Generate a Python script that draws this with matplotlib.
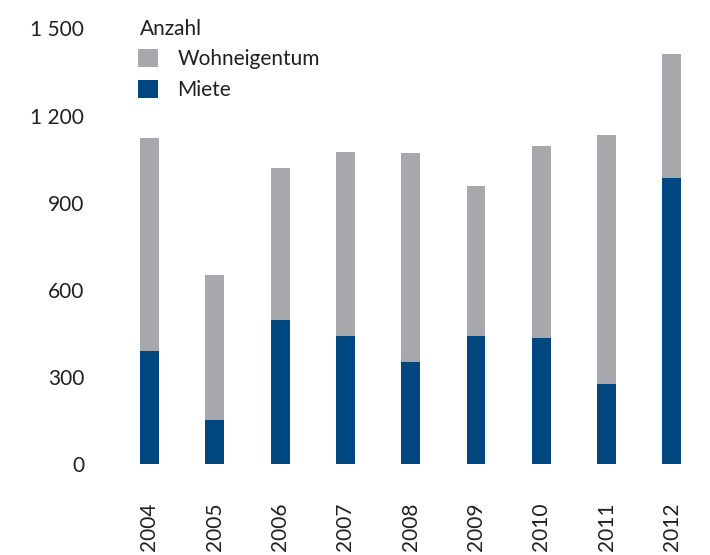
import matplotlib
matplotlib.use("Agg")
import matplotlib.pyplot as plt
from matplotlib.patches import Patch
import numpy as np

years = ["2004", "2005", "2006", "2007", "2008", "2009", "2010", "2011", "2012"]
miete = [389, 153, 496, 440, 352, 440, 435, 277, 986]
total = [1123, 651, 1019, 1075, 1070, 957, 1095, 1134, 1411]
wohneigentum = [t - m for t, m in zip(total, miete)]
yticks = [0, 300, 600, 900, 1200, 1500]
ytick_labels = ["0", "300", "600", "900", "1 200", "1 500"]

blue = "#00477F"
gray = "#A7A8AC"
txt = "#231F20"

plt.rcParams["font.family"] = ["Lato", "DejaVu Sans"]

W, H = 710, 555
fig = plt.figure(figsize=(W / 100, H / 100), dpi=100)

# axes placement in pixels
x0_px, unit_px = 149.5, 65.3
xmin, xmax = -1.0, 8.5
left_px = x0_px + xmin * unit_px
right_px = x0_px + xmax * unit_px
bottom_px, top_px = 464.0, 464.0 - 5 * 87.1
ax = fig.add_axes([left_px / W, 1 - bottom_px / H,
                   (right_px - left_px) / W, (bottom_px - top_px) / H])

x = np.arange(len(years))
bw = 0.29
ax.bar(x, miete, width=bw, color=blue, edgecolor="none")
ax.bar(x, wohneigentum, bottom=miete, width=bw, color=gray, edgecolor="none")

ax.set_xlim(xmin, xmax)
ax.set_ylim(0, 1500)
ax.set_yticks(yticks)
ax.set_yticklabels(ytick_labels, fontsize=15, color=txt)
for lab in ax.get_yticklabels():
    lab.set_va("center_baseline")
ax.set_xticks(x)
ax.set_xticklabels(years, rotation=90, fontsize=15, color=txt)
ax.tick_params(axis="both", length=0)
ax.tick_params(axis="y", pad=0)
ax.tick_params(axis="x", pad=28)
for s in ax.spines.values():
    s.set_visible(False)

fig.text(140 / W, 1 - 27 / H, "Anzahl", fontsize=15, color=txt,
         ha="left", va="center_baseline")

handles = [Patch(facecolor=gray, edgecolor="none", label="Wohneigentum"),
           Patch(facecolor=blue, edgecolor="none", label="Miete")]
leg = fig.legend(handles=handles, loc="upper left",
                 bbox_to_anchor=(138 / W, 1 - 49 / H),
                 frameon=False, fontsize=15, handlelength=0.95,
                 handleheight=0.95, handletextpad=0.95, labelspacing=0.5,
                 borderaxespad=0, borderpad=0)
for t in leg.get_texts():
    t.set_color(txt)

fig.savefig("out.png", dpi=100)
